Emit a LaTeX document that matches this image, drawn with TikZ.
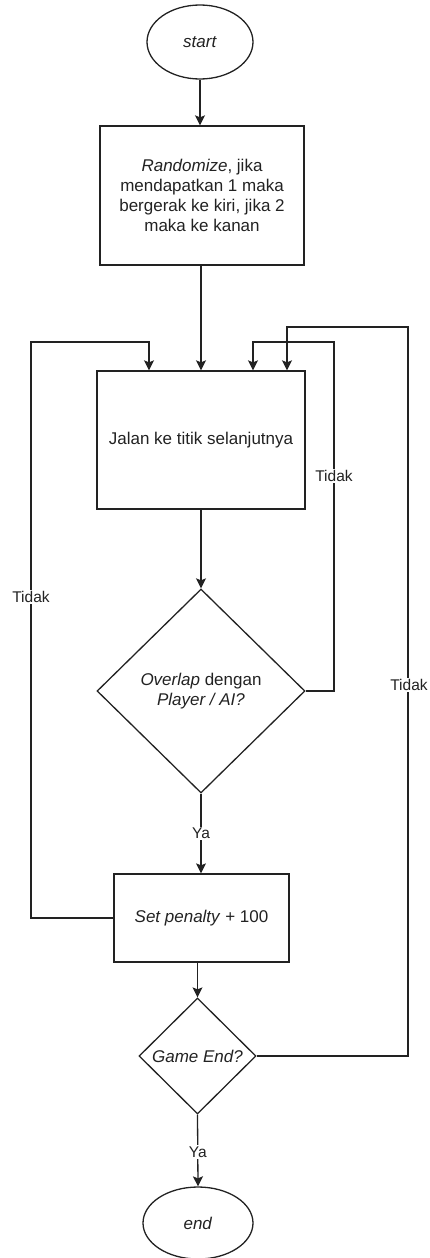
\documentclass[tikz,border=0pt]{standalone}
\usepackage{fontspec}
\setmainfont{Liberation Sans}
\usetikzlibrary{shapes.geometric,arrows.meta}
\definecolor{ink}{HTML}{222222}
\begin{document}
\begin{tikzpicture}[x=1pt,y=-1pt,
  every node/.style={font=\fontsize{17}{20}\selectfont, text=ink},
  box/.style={draw=ink, line width=1.3pt, rectangle, inner sep=0pt, align=center},
  term/.style={draw=ink, line width=1.3pt, ellipse, inner sep=0pt},
  decision/.style={draw=ink, line width=1.3pt, diamond, inner sep=0pt, align=center},
  flow/.style={draw=ink, line width=1.3pt, -{Stealth[length=10pt,width=10pt,inset=2pt]}},
  wire/.style={draw=ink, line width=1.3pt},
  lbl/.style={font=\fontsize{15.5}{18}\selectfont, fill=white, inner sep=1.5pt}
]
\useasboundingbox (0,0) rectangle (429,1258);

% main column
\node[term, minimum width=106pt, minimum height=74pt] (start) at (200,42) {\textit{start}};
\node[box, minimum width=204pt, minimum height=139pt] (rand) at (202,195.5)
  {\textit{Randomize}, jika\\mendapatkan 1 maka\\bergerak ke kiri, jika 2\\maka ke kanan};
\node[box, minimum width=208pt, minimum height=138pt] (walk) at (201,440)
  {Jalan ke titik selanjutnya};
\node[decision, minimum width=208pt, minimum height=204pt] (overlap) at (201,691)
  {\textit{Overlap} dengan\\\textit{Player / AI?}};
\node[box, minimum width=175pt, minimum height=88pt] (penalty) at (201.5,918)
  {\textit{Set penalty} + 100};
\node[decision, minimum width=117pt, minimum height=116pt] (gameend) at (197.5,1056)
  {\textit{Game End?}};
\node[term, minimum width=110pt, minimum height=72pt] (end) at (198,1223) {\textit{end}};

% loop corners
\coordinate (l1) at (31,918);
\coordinate (l2) at (31,342);
\coordinate (l3) at (149,342);
\coordinate (r1) at (334,691);
\coordinate (r2) at (334,342);
\coordinate (r3) at (253,342);
\coordinate (g1) at (408,1056);
\coordinate (g2) at (408,327);
\coordinate (g3) at (287,327);

% straight flow
\draw[flow] (start.south) -- (start.south |- rand.north);
\draw[flow] (walk.north |- rand.south) -- (walk.north);
\draw[flow] (walk.south) -- (overlap.north);
\draw[flow] (overlap.south) -- node[lbl, pos=0.5] (ya1) {Ya} (overlap.south |- penalty.north);
\draw[flow] (gameend.north |- penalty.south) -- (gameend.north);
\draw[flow] (gameend.south) -- node[lbl, pos=0.52] (ya2) {Ya} (end.north);

% return loops
\draw[flow] (penalty.west |- l1) -- (l1) -- (l2) -- (l3) -- (l3 |- walk.north);
\draw[flow] (overlap.east) -- (r1) -- (r2) -- (r3) -- (r3 |- walk.north);
\draw[flow] (gameend.east) -- (g1) -- (g2) -- (g3) -- (g3 |- walk.north);

% loop labels
\node[lbl] (tidak1) at (31,597) {Tidak};
\node[lbl] (tidak2) at (334,476) {Tidak};
\node[lbl] (tidak3) at (409,685) {Tidak};
\end{tikzpicture}
\end{document}
